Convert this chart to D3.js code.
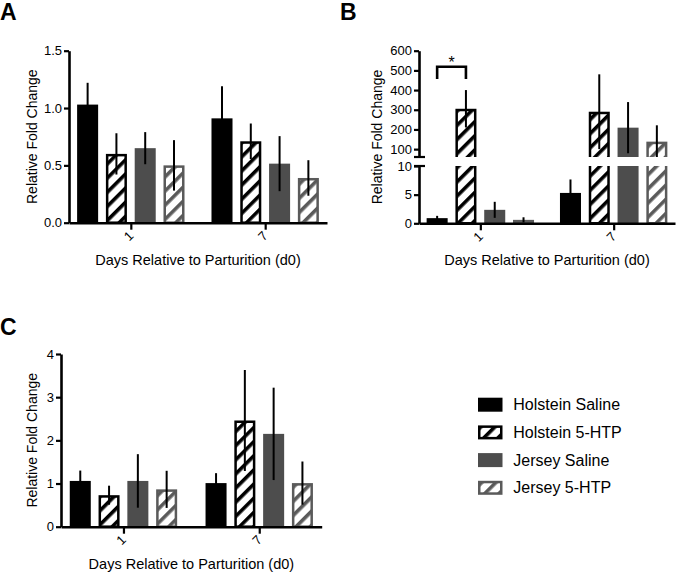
<!DOCTYPE html>
<html><head><meta charset="utf-8">
<script src="https://cdn.jsdelivr.net/npm/d3@7"></script>
<style>
body{margin:0;background:#fff;}
svg{display:block;font-family:"Liberation Sans",Arial,Helvetica,sans-serif;}
</style></head><body>
<svg id="c" width="677" height="572"></svg>
<script>
// ---------- data ----------
const days = ["1", "7"];
const groupNames = ["Holstein Saline", "Holstein 5-HTP", "Jersey Saline", "Jersey 5-HTP"];
const meansA = [[1.03, 0.60, 0.65, 0.50], [0.91, 0.71, 0.515, 0.39]];
const errA   = [[0.19, 0.18, 0.14, 0.22], [0.28, 0.155, 0.24, 0.155]];
const meansB = [[0.9, 305, 2.35, 0.6], [5.3, 290, 209, 138]];
const errB   = [[0.4, 95, 1.4, 0.45], [2.35, 190, 130, 83]];
const meansC = [[1.06, 0.73, 1.06, 0.865], [1.01, 2.46, 2.15, 1.01]];
const errC   = [[0.24, 0.22, 0.62, 0.43], [0.23, 1.17, 1.07, 0.5]];
const ticksA = [0, 0.5, 1.0, 1.5];
const ticksBLow = [0, 5, 10];
const ticksBHigh = [100, 200, 300, 400, 500, 600];
const ticksC = [0, 1, 2, 3, 4];
const xTitle = "Days Relative to Parturition (d0)";
const yTitle = "Relative Fold Change";
const sigB = {day: "1", from: 0, to: 1, label: "*"};

// ---------- setup ----------
const svg = d3.select("#c");
const defs = svg.append("defs");
function hatch(id, color) {
  const p = defs.append("pattern").attr("id", id)
    .attr("patternUnits", "userSpaceOnUse").attr("width", 10).attr("height", 10)
    .attr("patternTransform", "rotate(45)");
  p.append("rect").attr("width", 10).attr("height", 10).attr("fill", "#fff");
  p.append("rect").attr("x", 0).attr("width", 3.6).attr("height", 10).attr("fill", color);
}
hatch("hK", "#000");
hatch("hG", "#5a5a5a");
const styles = [
  {fill: "#000", stroke: "#000", sw: 0},
  {fill: "url(#hK)", stroke: "#000", sw: 2.5},
  {fill: "#4d4d4d", stroke: "#4d4d4d", sw: 0},
  {fill: "url(#hG)", stroke: "#5a5a5a", sw: 2.5}
];
let clipN = 0;

function styleAxis(g) {
  g.select(".domain").attr("stroke", "#000").attr("stroke-width", 2.6);
  g.selectAll(".tick line").attr("stroke", "#000").attr("stroke-width", 2.2);
  g.selectAll(".tick text").attr("fill", "#000").attr("font-size", 13);
}

function drawPanel(o) {
  const xP = d3.scalePoint().domain(days).range([o.left, o.right]).padding(0.46);
  const xB = d3.scaleBand().domain(groupNames).range([-53.7, 53.7]).paddingInner(0.27);
  const bw = xB.bandwidth();
  const g = svg.append("g");
  const yBase = o.segments[o.segments.length - 1].scale(0);

  o.segments.forEach(seg => {
    const s = seg.scale;
    const lo = s.domain()[0];
    const id = "clip" + (clipN++);
    defs.append("clipPath").attr("id", id).append("rect")
      .attr("x", 0).attr("width", 677)
      .attr("y", seg.clipTop).attr("height", seg.clipBottom - seg.clipTop);
    const sg = g.append("g").attr("clip-path", `url(#${id})`);
    const bottomExt = seg.isBottom ? s(0) : s(lo) + 20;
    days.forEach((d, di) => {
      groupNames.forEach((gn, gi) => {
        const v = o.means[di][gi], e = o.errs[di][gi];
        const st = styles[gi];
        const x = xP(d) + xB(gn);
        const top = s(v);
        if (bottomExt - top > 0) {
          sg.append("rect")
            .attr("x", x + st.sw / 2).attr("width", bw - st.sw)
            .attr("y", top + st.sw / 2).attr("height", Math.max(0, bottomExt - top - st.sw / 2))
            .attr("fill", st.fill).attr("stroke", st.sw ? st.stroke : "none")
            .attr("stroke-width", st.sw);
        }
        sg.append("line")
          .attr("x1", x + bw / 2).attr("x2", x + bw / 2)
          .attr("y1", s(v - e)).attr("y2", s(v + e))
          .attr("stroke", "#000").attr("stroke-width", 2);
      });
    });
  });

  // y axes
  o.segments.forEach(seg => {
    const ax = g.append("g").attr("transform", `translate(${o.left},0)`)
      .call(d3.axisLeft(seg.scale).tickValues(seg.ticks).tickSize(5).tickSizeOuter(0).tickPadding(2)
        .tickFormat(seg.fmt ? d3.format(seg.fmt) : d3.format("d")));
    styleAxis(ax);
  });
  // break caps
  (o.caps || []).forEach(cy => {
    g.append("line").attr("x1", o.left - 5).attr("x2", o.left + 6)
      .attr("y1", cy).attr("y2", cy).attr("stroke", "#000").attr("stroke-width", 2.2);
  });

  // x axis
  const xa = g.append("g").attr("transform", `translate(0,${yBase})`)
    .call(d3.axisBottom(xP).tickSize(7).tickSizeOuter(0).tickPadding(4));
  styleAxis(xa);
  xa.selectAll(".tick text")
    .attr("text-anchor", "end").attr("dy", null)
    .attr("transform", "translate(3,14) rotate(-45)").attr("y", 0).attr("x", 0);

  // titles
  g.append("text").attr("x", (o.left + o.right) / 2).attr("y", o.xTitleY)
    .attr("text-anchor", "middle").attr("font-size", 14.5).text(xTitle);
  g.append("text").attr("transform", `translate(${o.yTitleX},${o.yTitleY}) rotate(-90)`)
    .attr("text-anchor", "middle").attr("dy", "0.35em").attr("font-size", 14).text(yTitle);
  g.append("text").attr("x", o.labelX).attr("y", o.labelY)
    .attr("font-size", 23).attr("font-weight", "bold").text(o.label);

  return {xP, xB, bw};
}

// Panel A
drawPanel({
  left: 69, right: 327, means: meansA, errs: errA,
  segments: [{scale: d3.scaleLinear().domain([0, 1.5]).range([222.7, 50.7]), ticks: ticksA, fmt: ".1f",
              clipTop: 0, clipBottom: 240, isBottom: true}],
  xTitleY: 265, yTitleX: 32, yTitleY: 136.7, label: "A", labelX: 0, labelY: 20
});

// Panel B (broken axis)
const yBHigh = d3.scaleLinear().domain([60, 600]).range([157, 50.7]);
const yBLow = d3.scaleLinear().domain([0, 10]).range([223.3, 166]);
const pB = drawPanel({
  left: 419, right: 675, means: meansB, errs: errB,
  segments: [
    {scale: yBHigh, ticks: ticksBHigh, clipTop: 0, clipBottom: 157, isBottom: false},
    {scale: yBLow, ticks: ticksBLow, clipTop: 166, clipBottom: 240, isBottom: true}
  ],
  caps: [157, 166],
  xTitleY: 265, yTitleX: 377.5, yTitleY: 137, label: "B", labelX: 340, labelY: 20
});
// significance bracket
{
  const x1 = pB.xP(sigB.day) + pB.xB(groupNames[sigB.from]) + pB.bw / 2;
  const x2 = pB.xP(sigB.day) + pB.xB(groupNames[sigB.to]) + pB.bw / 2;
  svg.append("path").attr("d", `M${x1},79V66.7H${x2}V79`)
    .attr("fill", "none").attr("stroke", "#000").attr("stroke-width", 2.6);
  svg.append("text").attr("x", (x1 + x2) / 2).attr("y", 68).attr("text-anchor", "middle")
    .attr("font-size", 16).text(sigB.label);
}

// Panel C
drawPanel({
  left: 61, right: 321.7, means: meansC, errs: errC,
  segments: [{scale: d3.scaleLinear().domain([0, 4]).range([526.7, 354]), ticks: ticksC,
              clipTop: 300, clipBottom: 545, isBottom: true}],
  xTitleY: 568.5, yTitleX: 32.5, yTitleY: 440.3, label: "C", labelX: 0, labelY: 335
});

// Legend
const leg = svg.append("g");
groupNames.forEach((gn, i) => {
  const st = styles[i];
  const cy = 404.7 + i * 27.7;
  leg.append("rect").attr("x", 478 + st.sw / 2).attr("y", cy - 7 + st.sw / 2)
    .attr("width", 24.5 - st.sw).attr("height", 14 - st.sw)
    .attr("fill", st.fill).attr("stroke", st.sw ? st.stroke : "none").attr("stroke-width", st.sw);
  leg.append("text").attr("x", 513.3).attr("y", cy).attr("dy", "0.35em")
    .attr("font-size", 16).text(gn);
});
</script>
</body></html>
